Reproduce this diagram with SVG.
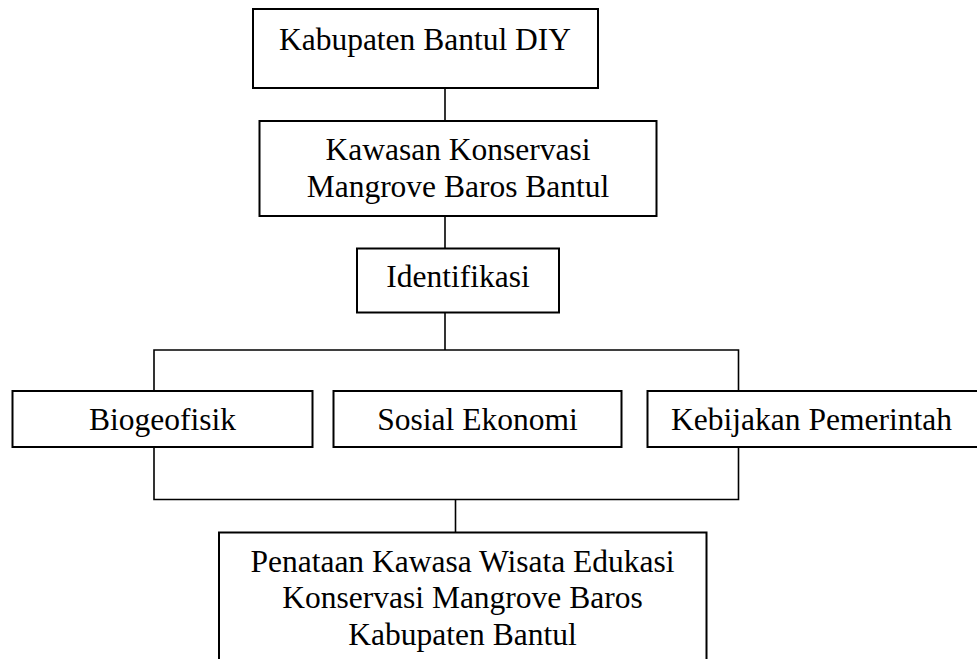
<svg xmlns="http://www.w3.org/2000/svg" width="977" height="659" viewBox="0 0 977 659">
<style>
  .box { fill: #ffffff; stroke: #000000; stroke-width: 2; }
  .lbl { font-family: "Liberation Serif", "Times New Roman", serif; font-size: 31.5px; fill: #000000; text-anchor: middle; }
  .conn { fill: none; stroke: #000000; stroke-width: 1.6; }
</style>
<rect x="0" y="0" width="977" height="659" fill="#ffffff"/>
<g id="connectors">
  <line class="conn" x1="445" y1="88" x2="445" y2="121"/>
  <line class="conn" x1="445" y1="216" x2="445" y2="249"/>
  <line class="conn" x1="445" y1="312" x2="445" y2="350"/>
  <polyline class="conn" points="154,391 154,350 738.5,350 738.5,391"/>
  <polyline class="conn" points="154,447 154,499.5 738.5,499.5 738.5,447"/>
  <line class="conn" x1="455.5" y1="499.5" x2="455.5" y2="532"/>
</g>
<g id="node-kabupaten">
  <rect class="box" x="253" y="9" width="345" height="79"/>
  <text class="lbl" x="425" y="49.5">Kabupaten Bantul DIY</text>
</g>
<g id="node-kawasan">
  <rect class="box" x="259.5" y="121" width="397" height="95"/>
  <text class="lbl" x="458" y="160">Kawasan Konservasi</text>
  <text class="lbl" x="458" y="196.7">Mangrove Baros Bantul</text>
</g>
<g id="node-identifikasi">
  <rect class="box" x="357" y="248.5" width="202" height="64"/>
  <text class="lbl" x="458" y="286.7">Identifikasi</text>
</g>
<g id="node-biogeofisik">
  <rect class="box" x="12.5" y="391" width="300" height="56"/>
  <text class="lbl" x="162.5" y="429.5">Biogeofisik</text>
</g>
<g id="node-sosial">
  <rect class="box" x="333.5" y="391" width="288" height="56"/>
  <text class="lbl" x="477.5" y="429.5">Sosial Ekonomi</text>
</g>
<g id="node-kebijakan">
  <rect class="box" x="647.5" y="391" width="335" height="56"/>
  <text class="lbl" x="811.5" y="429.5">Kebijakan Pemerintah</text>
</g>
<g id="node-penataan">
  <rect class="box" x="219" y="532.5" width="487.5" height="140"/>
  <text class="lbl" x="462.5" y="571.5">Penataan Kawasa Wisata Edukasi</text>
  <text class="lbl" x="462.5" y="607.8">Konservasi Mangrove Baros</text>
  <text class="lbl" x="462.5" y="644.5">Kabupaten Bantul</text>
</g>
</svg>
